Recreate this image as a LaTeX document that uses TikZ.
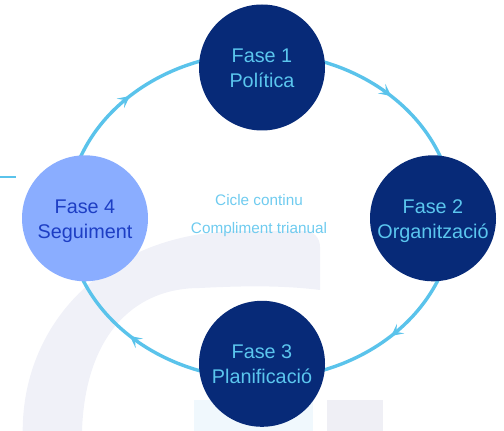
\documentclass[tikz,border=0pt]{standalone}
\usepackage{fontspec}
\setmainfont{Liberation Sans}
\usetikzlibrary{arrows.meta,decorations.markings}
\definecolor{navy}{HTML}{072A78}
\definecolor{phtext}{HTML}{5BC6EE}
\definecolor{lightph}{HTML}{8AADFF}
\definecolor{lightphtext}{HTML}{1D3EC4}
\definecolor{ringcol}{HTML}{5AC3EB}
\definecolor{midtext}{HTML}{6FCBEF}
\definecolor{bandcol}{HTML}{F0F1F8}
\definecolor{sqblue}{HTML}{F0F8FD}
\definecolor{sqgray}{HTML}{EFEFF5}
\newcommand{\lnstrut}{\rule[-4pt]{0pt}{23pt}}
\tikzset{
  phase/.style={circle, fill=navy, minimum size=126pt, inner sep=0pt,
    text=phtext, font=\fontsize{19.8}{24.6}\selectfont, align=center},
  phaselight/.style={phase, fill=lightph, text=lightphtext},
  midlabel/.style={anchor=base, text=midtext, font=\fontsize{15.3}{18}\selectfont, inner sep=0pt},
  ringarc/.style={draw=ringcol, line width=3.4pt,
    postaction={decorate},
    decoration={markings, mark=at position 0.5 with {\arrow[ringcol]{Stealth[length=12pt,width=12pt,inset=5.5pt]}}}}
}
\begin{document}
\begin{tikzpicture}[x=1pt,y=1pt]
\useasboundingbox (0,0) rectangle (504,431);
% background decoration
\fill[sqblue] (194,0) rectangle (313,31);
\fill[sqgray] (327,0) rectangle (383,31);
\fill[bandcol] (22.7,0) .. controls (22.7,111) and (110,199) .. (240,200)
  -- (304,200) .. controls (314,200) and (320,193) .. (320,184) -- (320,141)
  .. controls (280,146) and (240,145) .. (200,143)
  .. controls (130,143) and (85,91) .. (82,0) -- cycle;
\coordinate (lineA) at (0,254);
\coordinate (lineB) at (16,254);
\draw[ringcol, line width=2pt] (lineA) -- (lineB);
% ring
\coordinate (ringc) at (260.5,215);
\draw[ringarc] ([shift={(180:193 and 163)}]ringc) arc[start angle=180, end angle=90, x radius=193, y radius=163];
\draw[ringarc] ([shift={(90:193 and 163)}]ringc) arc[start angle=90, end angle=0, x radius=193, y radius=163];
\draw[ringarc] ([shift={(0:193 and 163)}]ringc) arc[start angle=0, end angle=-90, x radius=193, y radius=163];
\draw[ringarc] ([shift={(-90:193 and 163)}]ringc) arc[start angle=-90, end angle=-180, x radius=193, y radius=163];
% phases
\node[phase] (f1) at (262,363.5) {\lnstrut Fase 1\\\lnstrut Política};
\node[phase] (f2) at (433,212.7) {\lnstrut Fase 2\\\lnstrut Organització};
\node[phase] (f3) at (262,67.2) {\lnstrut Fase 3\\\lnstrut Planificació};
\node[phaselight] (f4) at (85,212.7) {\lnstrut Fase 4\\\lnstrut Seguiment};
% centre texts
\node[midlabel] (c1) at (259,225) {Cicle continu};
\node[midlabel] (c2) at (259,197.7) {Compliment trianual};
\end{tikzpicture}
\end{document}
